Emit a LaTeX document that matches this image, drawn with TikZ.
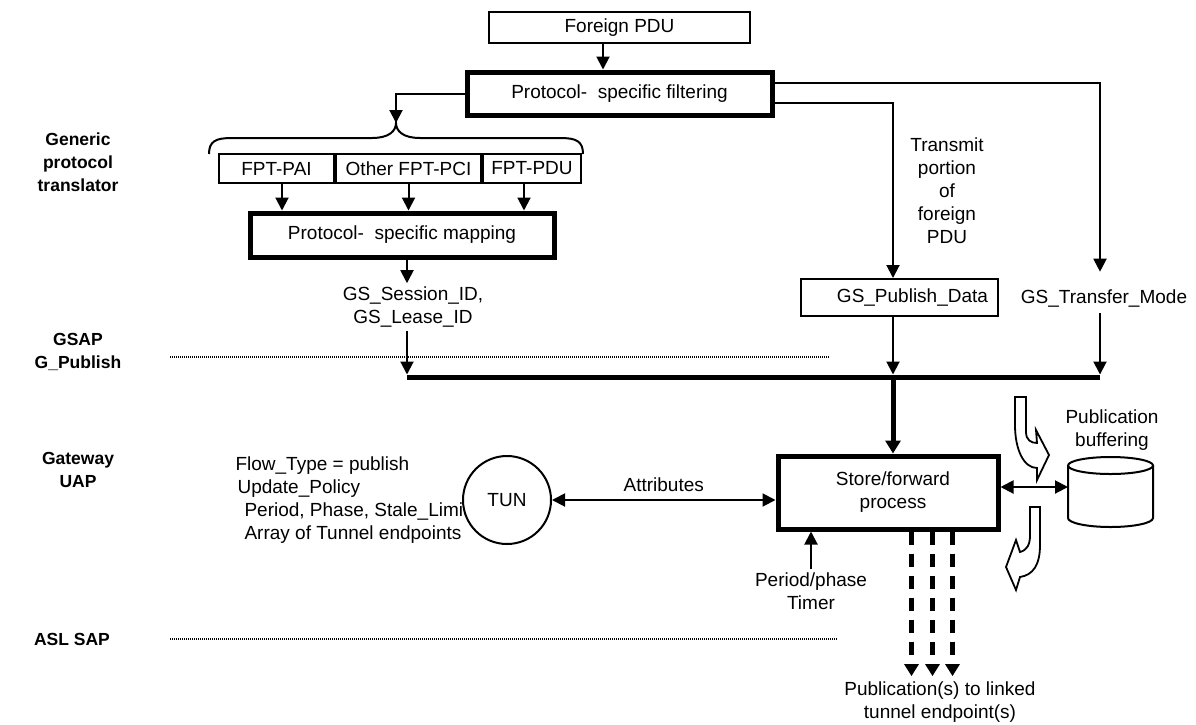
\documentclass[tikz,border=0pt]{standalone}
\usepackage{fontspec}
\setmainfont{Liberation Sans}
\usepackage{tikz}
\usetikzlibrary{arrows.meta,calc,positioning}
\definecolor{inkmain}{HTML}{000000}
\tikzset{every node/.append style={font=\fontsize{19}{23}\selectfont, text=inkmain}}
\tikzset{
  box/.style={draw=inkmain, line width=2pt, inner sep=0pt},
  heavybox/.style={draw=inkmain, line width=5pt, inner sep=0pt},
  flow/.style={draw=inkmain, line width=2pt, -{Triangle[width=13pt,length=13pt]}},
  twoway/.style={draw=inkmain, line width=2pt, {Triangle[width=13pt,length=13pt]}-{Triangle[width=13pt,length=13pt]}},
  outflow/.style={draw=inkmain, line width=4.5pt, dash pattern=on 13pt off 9pt, -{Triangle[width=14pt,length=12pt]}},
  layer/.style={font=\fontsize{17.5}{23}\selectfont\bfseries, align=center},
  sapline/.style={draw=inkmain, line width=1.8pt, dash pattern=on 1pt off 1pt},
  bentarrow/.style={draw=inkmain, line width=1.8pt, fill=white, line join=miter},
}

\begin{document}
\begin{tikzpicture}[x=1pt,y=-1pt]
  \useasboundingbox (0,0) rectangle (1196,724);

  % layer names on the left
  \node[layer] (gpt) at (78,162) {Generic\\protocol\\translator};
  \node[layer] (gsap) at (78,352) {GSAP\\G\_Publish};
  \node[layer] (uap) at (78,470) {Gateway\\UAP};
  \node[layer] (asl) at (72,639) {ASL SAP};

  % service access point boundaries
  \coordinate (gsapL) at (170,357);
  \coordinate (gsapR) at (830,357);
  \coordinate (aslL) at (170,639);
  \coordinate (aslR) at (838,639);
  \draw[sapline] (gsapL) -- (gsapR);
  \draw[sapline] (aslL) -- (aslR);

  % translator part
  \node[box, minimum width=261pt, minimum height=31pt] (foreign) at (619.5,27.5) {Foreign PDU};
  \node[heavybox, minimum width=305pt, minimum height=43pt] (filter) at (619.5,93.5) {Protocol- \ specific filtering};
  \draw[flow] ([xshift=-16.5pt]foreign.south) -- ([xshift=-16.5pt]foreign.south |- filter.north);

  \coordinate (brtip) at (396,123);
  \draw[flow] (filter.west) -| (brtip);
  \draw[line width=2pt] (209,154) .. controls (209,141) and (216,138) .. (232,138)
    -- (372,138) .. controls (389,138) and (396,131) .. (brtip)
    .. controls (396,131) and (403,138) .. (420,138)
    -- (560,138) .. controls (576,138) and (583,141) .. (583,154);

  \node[box, minimum width=115pt, minimum height=29pt] (pai) at (276.5,168.5) {FPT-PAI};
  \node[box, minimum width=145pt, minimum height=29pt, right=0pt of pai] (opci) {Other FPT-PCI};
  \node[box, minimum width=98pt, minimum height=29pt, right=0pt of opci] (fpdu) {FPT-PDU};

  \node[heavybox, minimum width=304pt, minimum height=44pt] (map) at (402,235) {Protocol- \ specific mapping};
  \draw[flow] ([xshift=5.5pt]pai.south) -- ([xshift=5.5pt]pai.south |- map.north);
  \draw[flow] (opci.south) -- (opci.south |- map.north);
  \draw[flow] ([xshift=-8pt]fpdu.south) -- ([xshift=-8pt]fpdu.south |- map.north);

  \node[align=center] (sess) at (413,307) {GS\_Session\_ID,\\GS\_Lease\_ID};
  \draw[flow] ([xshift=5pt]map.south) -- ([xshift=5pt]map.south |- sess.north);

  % G_Publish bus
  \coordinate (busL) at (407,377);
  \coordinate (busR) at (1100,377);
  \draw[line width=5pt] (busL) -- (busR);
  \draw[flow, shorten >=2.5pt] ([xshift=-6pt]sess.south) -- (busL);

  % transfer mode and publish data
  \node (xfer) at (1104,298) {GS\_Transfer\_Mode};
  \draw[flow] ([yshift=10.5pt]filter.east) -| ([yshift=14pt]xfer.north -| busR);
  \draw[flow, shorten >=2.5pt] ([yshift=-3pt]xfer.south -| busR) -- (busR);

  \node[box, minimum width=197pt, minimum height=37pt, text width=177pt, align=right] (pubdata) at (899.5,297.5) {GS\_Publish\_Data};
  \node[align=center] (tport) at (947,191) {Transmit\\portion\\of\\foreign\\PDU};
  \draw[flow] ([yshift=-9.5pt]filter.east) -| ([xshift=-6.5pt]pubdata.north);
  \draw[flow, shorten >=2.5pt] ([xshift=-6.5pt]pubdata.south) -- ([xshift=-6.5pt]pubdata.south |- busL);

  % gateway UAP
  \node[heavybox, minimum width=220pt, minimum height=73pt, align=center] (store) at (888,492.5) {\hspace*{10pt}Store/forward\\\hspace*{10pt}process};
  \draw[line width=5pt, -{Triangle[width=15pt,length=13pt]}] ([xshift=5pt]store.north |- busL) -- ([xshift=5pt]store.north);

  \node[align=left, anchor=north west] (params) at (232,453)
    {Flow\_Type = publish\\\hspace*{2pt}Update\_Policy\\\hspace*{9pt}Period, Phase, Stale\_Limit\\\hspace*{9pt}Array of Tunnel endpoints};
  \node[draw=inkmain, circle, line width=2pt, fill=white, minimum size=88pt, inner sep=0pt] (tun) at (507,500) {TUN};
  \draw[twoway] (tun.east) -- (tun.east -| store.west) node[midway, above, yshift=4pt] {Attributes};

  \node[align=center] (timer) at (811,591) {Period/phase\\Timer};
  \draw[flow] (timer.north) -- (timer.north |- store.south);

  % publication buffer
  \coordinate (bufw) at (1068,487);
  \draw[line width=2pt, fill=white] (1068,465.5) -- (1068,518) arc[start angle=180, end angle=360, x radius=42.5pt, y radius=9pt] -- (1153,465.5);
  \draw[line width=2pt] (1110.5,465.5) ellipse [x radius=42.5pt, y radius=8.5pt];
  \node[align=center] (buflabel) at (1112,430) {Publication\\buffering};
  \draw[twoway] ([yshift=5.5pt]store.east) -- (bufw);

  % in and out of the buffer
  \draw[bentarrow] (1015,397) -- (1026,397) -- (1026,432) .. controls (1026,440) and (1031,443) .. (1037,443)
    -- (1036,430) -- (1049,455) -- (1037,480) -- (1037,468)
    .. controls (1024,468) and (1015,450) .. (1015,425) -- cycle;
  \draw[bentarrow] (1030,507) -- (1040,507) -- (1040,545) .. controls (1040,565) and (1033,575) .. (1020,577)
    -- (1016,590) -- (1006,567) -- (1016,540) -- (1020,552)
    .. controls (1027,550) and (1030,545) .. (1030,535) -- cycle;

  % publications to the tunnel endpoints
  \node[align=center] (pubout) at (940,702) {Publication(s) to linked\\tunnel endpoint(s)};
  \foreach \dx in {136,157,177} {
    \coordinate (out\dx) at ($(store.south west)+(\dx,0)$);
    \draw[outflow, shorten >=2pt] (out\dx) -- (out\dx |- pubout.north);
  }
\end{tikzpicture}
\end{document}
